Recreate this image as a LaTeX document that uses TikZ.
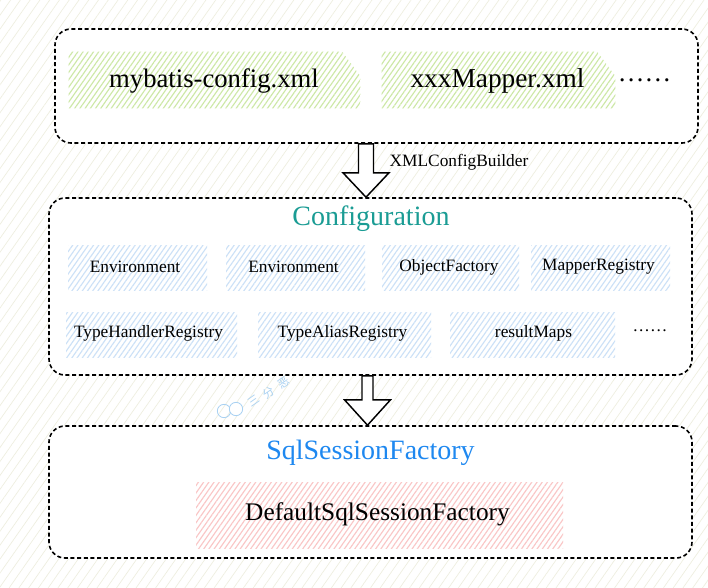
\documentclass[tikz,border=0pt]{standalone}
\usepackage{fontspec}
\setmainfont{Liberation Serif}
\newfontfamily\cjk{Noto Sans CJK SC}
\usetikzlibrary{patterns.meta,calc}
\definecolor{tealc}{HTML}{1A9C94}
\definecolor{bluec}{HTML}{1E88F0}
\definecolor{hgreen}{HTML}{CDE8A6}
\definecolor{hblue}{HTML}{CCE1F7}
\definecolor{hred}{HTML}{FAC6C6}
\definecolor{bgline}{HTML}{EEEEDF}
\definecolor{wmblue}{HTML}{A9D1F2}
\begin{document}
\begin{tikzpicture}[x=0.75pt,y=-0.75pt,
  bigbox/.style={draw, dash pattern=on 3pt off 2pt, line width=1.2pt, rounded corners=12pt, fill=white, inner sep=0pt},
  hatchfill/.style={pattern={Lines[angle=55,distance=3.2pt,line width=0.85pt]}, pattern color=#1},
  hbox/.style={hatchfill=#1, inner sep=0pt},
  small/.style={font=\fontsize{13}{15}\selectfont},
  arrowshape/.style={draw, fill=white, line width=1.1pt, line join=miter},
  title/.style={font=\fontsize{21}{24}\selectfont},
  wmc/.style={text=wmblue, rotate=35, font=\cjk\fontsize{8.5}{9}\selectfont, inner sep=0pt}
]
\fill[white] (0,0) rectangle (708,587);
\fill[pattern={Lines[angle=55,distance=6pt,line width=0.5pt]}, pattern color=bgline] (0,0) rectangle (708,587);
\useasboundingbox (0,0) rectangle (708,587);

% boxes
\node[bigbox, minimum width=643*0.75pt, minimum height=114*0.75pt] (b1) at (376.5,86) {};
\node[bigbox, minimum width=643*0.75pt, minimum height=177*0.75pt] (b2) at (370.5,286.5) {};
\node[bigbox, minimum width=643*0.75pt, minimum height=132*0.75pt] (b3) at (370.5,492) {};

% box 1 content
\node[inner sep=0pt, minimum width=291*0.75pt, minimum height=56*0.75pt] (g1) at (214.5,80) {};
\fill[hatchfill=hgreen] (g1.south west) -- (g1.north west) -- ($(g1.north east)+(-18,0)$) -- ($(g1.east)+(0,-4)$) -- (g1.south east) -- cycle;
\node[font=\fontsize{20}{24}\selectfont] (t1) at (214,81) {mybatis-config.xml};
\node[inner sep=0pt, minimum width=233*0.75pt, minimum height=56*0.75pt] (g2) at (498.5,80) {};
\fill[hatchfill=hgreen] (g2.south west) -- (g2.north west) -- ($(g2.north east)+(-18,0)$) -- ($(g2.east)+(0,-4)$) -- (g2.south east) -- cycle;
\node[font=\fontsize{20.5}{24}\selectfont] (t2) at (497.5,81) {xxxMapper.xml};
\node[font=\fontsize{20}{24}\selectfont] (d1) at (644.5,80) {……};

% box 2 content
\node[title, text=tealc] (conf) at (371,219) {Configuration};
\node[hbox=hblue, minimum width=139*0.75pt, minimum height=45*0.75pt] (e1) at (137.5,267.5) {};
\node[small] (e1t) at (135,267) {Environment};
\node[hbox=hblue, minimum width=139*0.75pt, minimum height=45*0.75pt] (e2) at (295.5,267.5) {};
\node[small] (e2t) at (293.5,267) {Environment};
\node[hbox=hblue, minimum width=137*0.75pt, minimum height=45*0.75pt] (of) at (450.5,267.5) {};
\node[small] (oft) at (449,267) {ObjectFactory};
\node[hbox=hblue, minimum width=139*0.75pt, minimum height=45*0.75pt] (mr) at (600.5,267.5) {};
\node[small] (mrt) at (598.5,267) {MapperRegistry};
\node[hbox=hblue, minimum width=171*0.75pt, minimum height=45*0.75pt] (th) at (151.5,334.5) {};
\node[small] (tht) at (148.5,333) {TypeHandlerRegistry};
\node[hbox=hblue, minimum width=173*0.75pt, minimum height=45*0.75pt] (ta) at (344.5,334.5) {};
\node[small] (tat) at (342.5,333) {TypeAliasRegistry};
\node[hbox=hblue, minimum width=165*0.75pt, minimum height=45*0.75pt] (rm) at (532.5,334.5) {};
\node[small] (rmt) at (533.5,333) {resultMaps};
\node[small] (d2) at (650,331) {……};

% box 3 content
\node[title, text=bluec] (ssf) at (370.5,453) {SqlSessionFactory};
\node[hbox=hred, minimum width=367*0.75pt, minimum height=66*0.75pt] (dssf) at (379.5,515) {};
\node[font=\fontsize{19}{22}\selectfont] (dssft) at (377.5,514) {DefaultSqlSessionFactory};

% arrows
\coordinate (a1s) at ($(b1.south)+(-10.5,0)$);
\coordinate (a1t) at (b2.north -| a1s);
\draw[arrowshape] ($(a1s)+(-7.5,0)$) -- ($(a1s)+(7.5,0)$) -- ($(a1s)+(7.5,29)$) -- ($(a1s)+(23,29)$) -- (a1t) -- ($(a1s)+(-23,29)$) -- ($(a1s)+(-7.5,29)$) -- cycle;
\node[anchor=west, small] (xcb) at (385,162) {XMLConfigBuilder};

\coordinate (a2s) at ($(b2.south)+(-3,0)$);
\coordinate (a2t) at (b3.north -| a2s);
\draw[arrowshape] ($(a2s)+(-5.5,0)$) -- ($(a2s)+(5.5,0)$) -- ($(a2s)+(5.5,24)$) -- ($(a2s)+(23,24)$) -- (a2t) -- ($(a2s)+(-23,24)$) -- ($(a2s)+(-5.5,24)$) -- cycle;

% watermark
\node[circle, draw=wmblue, line width=0.6pt, minimum size=10pt, inner sep=0pt] (w1) at (224,411) {};
\node[circle, draw=wmblue, line width=0.6pt, minimum size=10pt, inner sep=0pt, fill=white] (w2) at (236,409) {};
\node[wmc] (wt1) at (254,401) {三};
\node[wmc] (wt2) at (269,393) {分};
\node[wmc] (wt3) at (284,383) {恶};
\end{tikzpicture}
\end{document}
